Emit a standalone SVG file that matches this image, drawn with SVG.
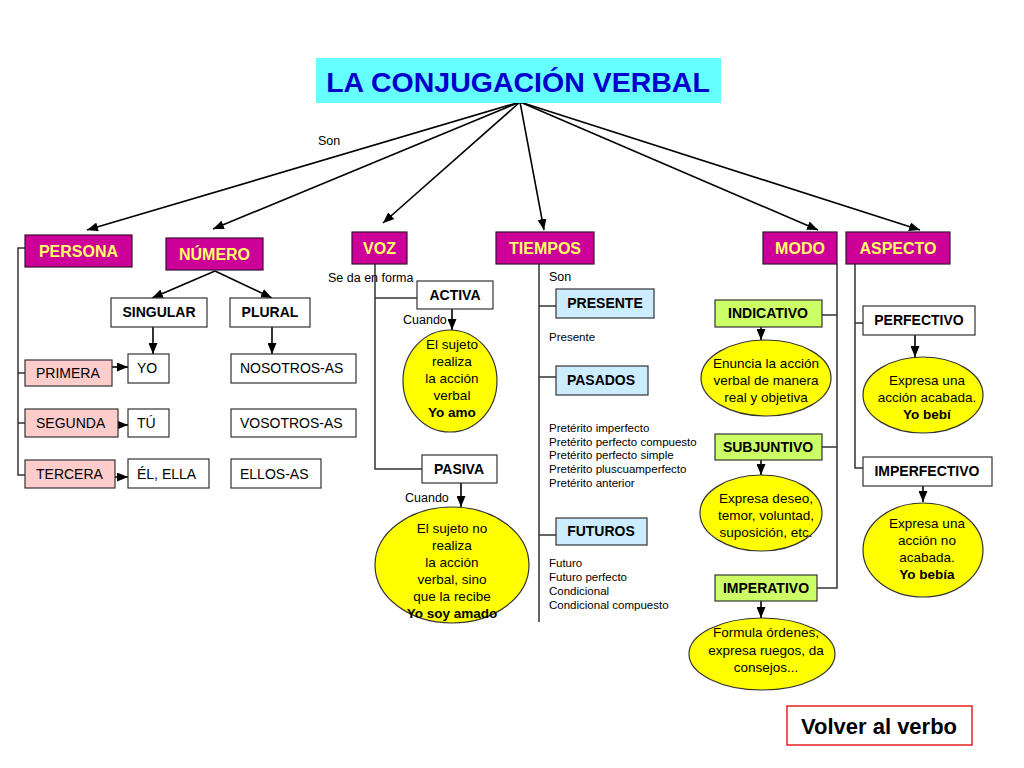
<svg xmlns="http://www.w3.org/2000/svg" width="1024" height="768" viewBox="0 0 1024 768">
<defs>
<marker id="ah" markerUnits="userSpaceOnUse" markerWidth="11" markerHeight="9" refX="11" refY="4.5" orient="auto">
<path d="M0,0 L11,4.5 L0,9 z" fill="#000"/>
</marker>
<style>
text{font-family:"Liberation Sans",Arial,sans-serif;fill:#000}
.mag{fill:#CC0099;stroke:#3a1030;stroke-width:1.2}
.magt{font-size:16px;font-weight:bold;fill:#FFFF66;text-anchor:middle}
.wb{fill:#fff;stroke:#333;stroke-width:1.2}
.pk{fill:#FFCCCC;stroke:#333;stroke-width:1.2}
.bl{fill:#CCECFF;stroke:#333;stroke-width:1.2}
.gr{fill:#CCFF66;stroke:#333;stroke-width:1.2}
.el{fill:#FFFF00;stroke:#333;stroke-width:1.2}
.bt{font-size:14px;font-weight:bold;text-anchor:middle}
.lt{font-size:14px}
.ct{font-size:13.5px;text-anchor:middle}
.cb{font-size:13.5px;font-weight:bold;text-anchor:middle}
.sm{font-size:11.5px}
.lab{font-size:12.5px}
.ln{stroke:#333;stroke-width:1.5;fill:none}
.ar{stroke:#000;stroke-width:1.6;fill:none;marker-end:url(#ah)}
</style>
</defs>
<rect width="1024" height="768" fill="#fff"/>

<g id="connectors">
<line class="ar" x1="520" y1="102" x2="87" y2="230"/>
<line class="ar" x1="520" y1="102" x2="213" y2="229"/>
<line class="ar" x1="520" y1="102" x2="383" y2="223"/>
<line class="ar" x1="520" y1="102" x2="544" y2="230"/>
<line class="ar" x1="520" y1="102" x2="818" y2="230"/>
<line class="ar" x1="520" y1="102" x2="920" y2="230"/>
<path class="ln" d="M25,248 H18 V475 H25 M18,373 H25 M18,423 H25"/>
<line class="ar" x1="215" y1="271" x2="152" y2="298"/>
<line class="ar" x1="215" y1="271" x2="272" y2="298"/>
<line class="ar" x1="153" y1="327" x2="153" y2="354"/>
<line class="ar" x1="272" y1="327" x2="272" y2="354"/>
<line class="ar" x1="112" y1="367" x2="128" y2="367"/>
<line class="ar" x1="110" y1="425" x2="128" y2="425"/>
<line class="ar" x1="110" y1="477" x2="128" y2="477"/>
<path class="ln" d="M375,264 V469 H422 M375,298 H417"/>
<line class="ar" x1="452" y1="309" x2="452" y2="330"/>
<line class="ar" x1="461" y1="483" x2="461" y2="507"/>
<path class="ln" d="M539,264 V622 M539,306 H556 M539,377 H556 M539,535 H556"/>
<path class="ln" d="M837,264 V588 H817 M837,315 H822 M837,447 H822"/>
<line class="ar" x1="761" y1="327" x2="761" y2="340"/>
<line class="ar" x1="761" y1="460" x2="761" y2="475"/>
<line class="ar" x1="761" y1="601" x2="761" y2="618"/>
<path class="ln" d="M855,264 V468 H863 M855,323 H863"/>
<line class="ar" x1="915" y1="335" x2="915" y2="357"/>
<line class="ar" x1="923" y1="486" x2="923" y2="502"/>
</g>

<g id="labels">
<text class="lab" x="318" y="145">Son</text>
<text class="lab" x="328" y="282">Se da en forma</text>
<text class="lab" x="403" y="324">Cuando</text>
<text class="lab" x="405" y="502">Cuando</text>
<text class="lab" x="549" y="281">Son</text>
<text class="sm" x="549" y="341">Presente</text>
<text class="sm" x="549" y="432">Pretérito imperfecto</text>
<text class="sm" x="549" y="446">Pretérito perfecto compuesto</text>
<text class="sm" x="549" y="459">Pretérito perfecto simple</text>
<text class="sm" x="549" y="473">Pretérito pluscuamperfecto</text>
<text class="sm" x="549" y="487">Pretérito anterior</text>
<text class="sm" x="549" y="567">Futuro</text>
<text class="sm" x="549" y="581">Futuro perfecto</text>
<text class="sm" x="549" y="595">Condicional</text>
<text class="sm" x="549" y="609">Condicional compuesto</text>
</g>

<g id="title">
<rect x="316" y="58" width="405" height="45" fill="#66FFFF"/>
<text x="518" y="92" font-size="28.5" font-weight="bold" text-anchor="middle" style="fill:#0000CC">LA CONJUGACIÓN VERBAL</text>
</g>

<g id="persona"><rect class="mag" x="25" y="235" width="107" height="32"/><text class="magt" x="78.5" y="257">PERSONA</text></g>
<g id="numero"><rect class="mag" x="166" y="238" width="97" height="32"/><text class="magt" x="214.5" y="260">NÚMERO</text></g>
<g id="voz"><rect class="mag" x="352" y="232" width="55" height="32"/><text class="magt" x="379.5" y="254">VOZ</text></g>
<g id="tiempos"><rect class="mag" x="496" y="232" width="98" height="32"/><text class="magt" x="545" y="254">TIEMPOS</text></g>
<g id="modo"><rect class="mag" x="763" y="232" width="74" height="32"/><text class="magt" x="800" y="254">MODO</text></g>
<g id="aspecto"><rect class="mag" x="846" y="232" width="104" height="32"/><text class="magt" x="898" y="254">ASPECTO</text></g>

<g id="singular"><rect class="wb" x="111" y="298" width="96" height="29"/><text class="bt" x="159" y="317">SINGULAR</text></g>
<g id="plural"><rect class="wb" x="230" y="298" width="80" height="29"/><text class="bt" x="270" y="317">PLURAL</text></g>

<g id="primera"><rect class="pk" x="25" y="360" width="87" height="26"/><text class="lt" x="36" y="378">PRIMERA</text></g>
<g id="segunda"><rect class="pk" x="25" y="409" width="93" height="28"/><text class="lt" x="36" y="428">SEGUNDA</text></g>
<g id="tercera"><rect class="pk" x="25" y="460" width="90" height="28"/><text class="lt" x="36" y="479">TERCERA</text></g>

<g id="yo"><rect class="wb" x="128" y="354" width="41" height="29"/><text class="lt" x="137" y="373">YO</text></g>
<g id="tu"><rect class="wb" x="128" y="409" width="41" height="28"/><text class="lt" x="137" y="428">TÚ</text></g>
<g id="el-ella"><rect class="wb" x="128" y="459" width="81" height="29"/><text class="lt" x="137" y="479">ÉL, ELLA</text></g>
<g id="nosotros"><rect class="wb" x="231" y="354" width="125" height="29"/><text class="lt" x="240" y="373">NOSOTROS-AS</text></g>
<g id="vosotros"><rect class="wb" x="231" y="409" width="125" height="28"/><text class="lt" x="240" y="428">VOSOTROS-AS</text></g>
<g id="ellos"><rect class="wb" x="231" y="459" width="90" height="29"/><text class="lt" x="240" y="479">ELLOS-AS</text></g>

<g id="activa"><rect class="wb" x="417" y="281" width="76" height="28"/><text class="bt" x="455" y="300">ACTIVA</text></g>
<g id="activa-desc"><ellipse class="el" cx="450" cy="381" rx="47" ry="51"/>
<text class="ct" x="452" y="349">El sujeto</text><text class="ct" x="452" y="366">realiza</text><text class="ct" x="452" y="383">la acción</text><text class="ct" x="452" y="400">verbal</text><text class="cb" x="452" y="417">Yo amo</text></g>
<g id="pasiva"><rect class="wb" x="422" y="455" width="75" height="28"/><text class="bt" x="459" y="474">PASIVA</text></g>
<g id="pasiva-desc"><ellipse class="el" cx="452" cy="565" rx="77" ry="58"/>
<text class="ct" x="452" y="533">El sujeto no</text><text class="ct" x="452" y="550">realiza</text><text class="ct" x="452" y="567">la acción</text><text class="ct" x="452" y="584">verbal, sino</text><text class="ct" x="452" y="601">que la recibe</text><text class="cb" x="452" y="618">Yo soy amado</text></g>

<g id="presente"><rect class="bl" x="556" y="289" width="98" height="29"/><text class="bt" x="605" y="308">PRESENTE</text></g>
<g id="pasados"><rect class="bl" x="556" y="366" width="92" height="29"/><text class="bt" x="601" y="385">PASADOS</text></g>
<g id="futuros"><rect class="bl" x="556" y="518" width="91" height="27"/><text class="bt" x="601" y="536">FUTUROS</text></g>

<g id="indicativo"><rect class="gr" x="715" y="300" width="107" height="27"/><text class="bt" x="768" y="318">INDICATIVO</text></g>
<g id="indicativo-desc"><ellipse class="el" cx="766" cy="378" rx="65" ry="38"/>
<text class="ct" x="766" y="368">Enuncia la acción</text><text class="ct" x="766" y="385">verbal de manera</text><text class="ct" x="766" y="402">real y objetiva</text></g>
<g id="subjuntivo"><rect class="gr" x="715" y="434" width="107" height="26"/><text class="bt" x="768" y="452">SUBJUNTIVO</text></g>
<g id="subjuntivo-desc"><ellipse class="el" cx="761" cy="513" rx="61" ry="38"/>
<text class="ct" x="766" y="503">Expresa deseo,</text><text class="ct" x="766" y="520">temor, voluntad,</text><text class="ct" x="766" y="537">suposición, etc.</text></g>
<g id="imperativo"><rect class="gr" x="715" y="575" width="102" height="26"/><text class="bt" x="766" y="593">IMPERATIVO</text></g>
<g id="imperativo-desc"><ellipse class="el" cx="762" cy="654" rx="73" ry="36"/>
<text class="ct" x="766" y="637">Formula órdenes,</text><text class="ct" x="766" y="655">expresa ruegos, da</text><text class="ct" x="766" y="672">consejos...</text></g>

<g id="perfectivo"><rect class="wb" x="863" y="306" width="112" height="29"/><text class="bt" x="919" y="325">PERFECTIVO</text></g>
<g id="perfectivo-desc"><ellipse class="el" cx="923" cy="395" rx="60" ry="38"/>
<text class="ct" x="927" y="385">Expresa una</text><text class="ct" x="927" y="402">acción acabada.</text><text class="cb" x="927" y="419">Yo bebí</text></g>
<g id="imperfectivo"><rect class="wb" x="863" y="457" width="129" height="29"/><text class="bt" x="927" y="476">IMPERFECTIVO</text></g>
<g id="imperfectivo-desc"><ellipse class="el" cx="923" cy="550" rx="60" ry="47"/>
<text class="ct" x="927" y="528">Expresa una</text><text class="ct" x="927" y="545">acción no</text><text class="ct" x="927" y="562">acabada.</text><text class="cb" x="927" y="579">Yo bebía</text></g>

<g id="volver"><rect x="787" y="706" width="185" height="39" fill="#fff" stroke="#E00000" stroke-width="1.3"/><text x="879" y="734" font-size="22" font-weight="bold" text-anchor="middle">Volver al verbo</text></g>
</svg>
